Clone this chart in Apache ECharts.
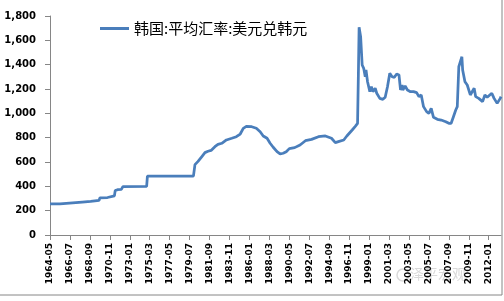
<!DOCTYPE html>
<html>
<head>
<meta charset="utf-8">
<script src="https://cdn.jsdelivr.net/npm/echarts@6/dist/echarts.min.js"></script>
<style>
html,body{margin:0;padding:0;background:#fff;}
#main{width:504px;height:301px;}
</style>
</head>
<body>
<div id="main"></div>
<script>
var seriesName='韩国:平均汇率:美元兑韩元';
var watermark='泽平宏观';
var startYear=1964,startMonth=5;

// monthly points (YYYY-MM)
var months=['1964-05','1965-06','1965-07','1967-11','1967-12','1968-10','1968-11','1969-09','1969-10','1970-08',
  '1970-09','1971-05','1971-06','1971-09','1972-02','1972-04','1974-11','1974-12','1979-12','1980-02',
  '1980-06','1980-11','1981-03','1981-07','1981-11','1982-04','1982-08','1983-01','1983-07','1984-02',
  '1984-08','1985-01','1985-05','1985-09','1986-04','1986-10','1987-03','1987-07','1987-12','1988-04',
  '1988-08','1989-01','1989-05','1989-09','1990-01','1990-05','1990-12','1991-07','1992-02','1992-10',
  '1993-07','1994-04','1994-12','1995-05','1995-09','1996-04','1996-08','1997-03','1997-07','1997-10',
  '1997-11','1997-12','1998-02','1998-04','1998-06','1998-08','1998-09','1998-11','1999-02','1999-04',
  '1999-06','1999-09','1999-11','2000-03','2000-07','2000-10','2001-01','2001-04','2001-07','2001-10',
  '2002-01','2002-04','2002-06','2002-08','2002-09','2002-12','2003-03','2003-07','2003-11','2004-03',
  '2004-06','2004-09','2004-12','2005-04','2005-07','2005-10','2006-01','2006-06','2006-11','2007-05',
  '2007-09','2007-12','2008-03','2008-06','2008-08','2008-10','2008-12','2009-02','2009-03','2009-06',
  '2009-09','2010-01','2010-06','2010-08','2010-12','2011-05','2011-08','2011-11','2012-05','2012-08',
  '2012-12','2013-04','2013-05'];
var rates=[255,255,271,271,277,277,285,285,305,308,
  318,322,365,372,375,398,400,484,484,578,
  605,645,677,688,695,726,745,754,781,795,
  808,830,877,893,890,877,849,814,795,754,
  721,685,666,672,685,710,718,740,775,786,
  808,814,795,759,767,781,814,863,893,918,
  1300,1707,1630,1397,1370,1301,1356,1260,1178,1219,
  1178,1206,1165,1123,1115,1132,1219,1329,1301,1296,
  1323,1315,1192,1233,1192,1225,1192,1178,1178,1170,
  1137,1151,1055,1014,1000,1041,967,951,945,931,
  918,918,972,1027,1055,1383,1370,1465,1356,1260,
  1233,1151,1206,1137,1123,1096,1151,1132,1165,1123,
  1082,1123,1137];

function monthIndex(s){
  var p=s.split('-');
  return (Number(p[0])-startYear)*12+Number(p[1])-startMonth;
}
function monthLabel(i){
  var t=startMonth-1+i;
  var y=startYear+Math.floor(t/12);
  var m=t%12+1;
  return y+'-'+(m<10?'0':'')+m;
}

var points=[];
for(var i=0;i<months.length;i++){
  points.push([monthIndex(months[i]),rates[i]]);
}

var option={
  animation:false,
  backgroundColor:'#fff',
  grid:{left:50,right:3,top:16,bottom:66},
  legend:{
    left:95,top:16,
    icon:'rect',itemWidth:29,itemHeight:3,
    textStyle:{fontFamily:'Noto Sans CJK SC',fontSize:15,color:'#000'},
    data:[seriesName]
  },
  xAxis:{
    type:'value',
    min:0,
    max:monthIndex(months[months.length-1]),
    interval:26,
    splitLine:{show:false},
    axisLine:{lineStyle:{color:'#868686'}},
    axisTick:{length:5,lineStyle:{color:'#868686'}},
    axisLabel:{
      rotate:90,margin:8,showMaxLabel:false,
      fontFamily:'DejaVu Sans',fontWeight:'bold',fontSize:9,color:'#000',
      padding:[0,0,12,0],
      formatter:function(v){return monthLabel(v);}
    }
  },
  yAxis:{
    type:'value',
    min:0,max:1800,interval:200,
    splitLine:{show:false},
    axisLine:{show:true,lineStyle:{color:'#868686'}},
    axisTick:{show:true,length:5,lineStyle:{color:'#868686'}},
    axisLabel:{
      margin:14,
      fontFamily:'DejaVu Sans',fontWeight:'bold',fontSize:10,color:'#000',
      formatter:function(v){return String(v).replace(/\B(?=(\d{3})+(?!\d))/g,',');}
    }
  },
  graphic:[
    {type:'rect',shape:{x:-1,y:-1,width:503,height:296},style:{fill:'none',stroke:'#868686',lineWidth:1},silent:true},
    {type:'circle',shape:{cx:403,cy:275,r:6},style:{fill:'none',stroke:'rgba(170,170,170,0.45)',lineWidth:1.5},silent:true},
    {type:'text',left:410,top:267,style:{text:watermark,fontFamily:'Noto Sans CJK SC',fontSize:14,fill:'rgba(170,170,170,0.45)'},silent:true}
  ],
  series:[
    {
      name:seriesName,
      type:'line',
      data:points,
      symbol:'none',
      itemStyle:{color:'#4A7EBB'},
      lineStyle:{color:'#4A7EBB',width:2.75}
    }
  ]
};

var chart=echarts.init(document.getElementById('main'));
chart.setOption(option);
</script>
</body>
</html>
